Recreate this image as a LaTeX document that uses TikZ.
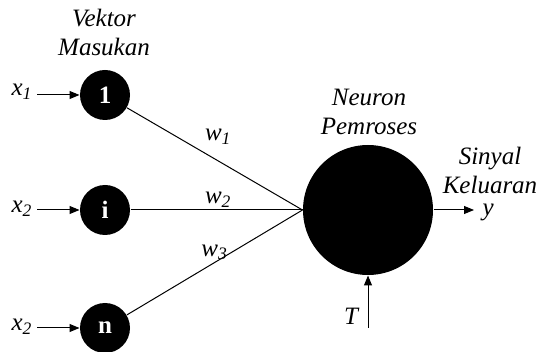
\documentclass[tikz,border=0pt]{standalone}
\usepackage{fontspec}
\setmainfont{Liberation Serif}
\usepackage{tikz}
\usetikzlibrary{arrows.meta}

\newcommand{\isub}[2]{\textit{#1}\textsubscript{\textit{#2}}}

\tikzset{
  inp/.style={circle,fill=black,text=white,font={\fontsize{12.5}{14.5}\selectfont\bfseries},minimum size=25pt,inner sep=0pt},
  neuronbox/.style={circle,fill=black,minimum size=65pt,inner sep=0pt},
  title/.style={align=center,inner sep=0pt,font={\fontsize{12.5}{14.5}\selectfont\itshape}},
  lbl/.style={inner sep=2pt},
  wlbl/.style={inner sep=1pt}
}

\begin{document}
\begin{tikzpicture}[x=0.5pt,y=-0.5pt,font={\fontsize{12.5}{14.5}\selectfont},>={Triangle[length=5pt,width=4pt]},line width=0.5pt]
  \useasboundingbox (0,0) rectangle (541,352);
  % input vector
  \node[inp] (in1) at (105,95) {1};
  \node[inp] (ini) at (105,210) {i};
  \node[inp] (inn) at (105,328) {n};
  \node[title,anchor=south] (vek) at (104,56) {Vektor\\Masukan};
  \node[lbl,anchor=base east] (x1) at (37,96) {\isub{x}{1}};
  \node[lbl,anchor=base east] (xi) at (37,213) {\isub{x}{2}};
  \node[lbl,anchor=base east] (xn) at (37,331) {\isub{x}{2}};
  \draw[->] (x1.east |- in1) -- (in1);
  \draw[->] (xi.east |- ini) -- (ini);
  \draw[->] (xn.east |- inn) -- (inn);
  % neuron
  \node[neuronbox] (neu) at (368,210) {};
  \node[title,anchor=south] (pem) at (369,135) {Neuron\\Pemroses};
  \draw (in1) -- (neu.west) node[wlbl,pos=0.52,above=7pt] {\isub{w}{1}};
  \draw (ini) -- (neu.west) node[wlbl,pos=0.51,above] {\isub{w}{2}};
  \draw (inn) -- (neu.west) node[wlbl,pos=0.5,above] {\isub{w}{3}};
  % output and threshold
  \node[title,anchor=south] (kel) at (490,194) {Sinyal\\Keluaran};
  \node[lbl,anchor=base west,inner xsep=4pt] (yout) at (474,216) {\textit{y}};
  \draw[->] (neu.east) -- (neu.east -| yout.west);
  \node[lbl,anchor=base east] (tin) at (364,325) {\textit{T}};
  \coordinate (tbot) at (368,328);
  \draw[->] (tbot) -- (neu);
\end{tikzpicture}
\end{document}
